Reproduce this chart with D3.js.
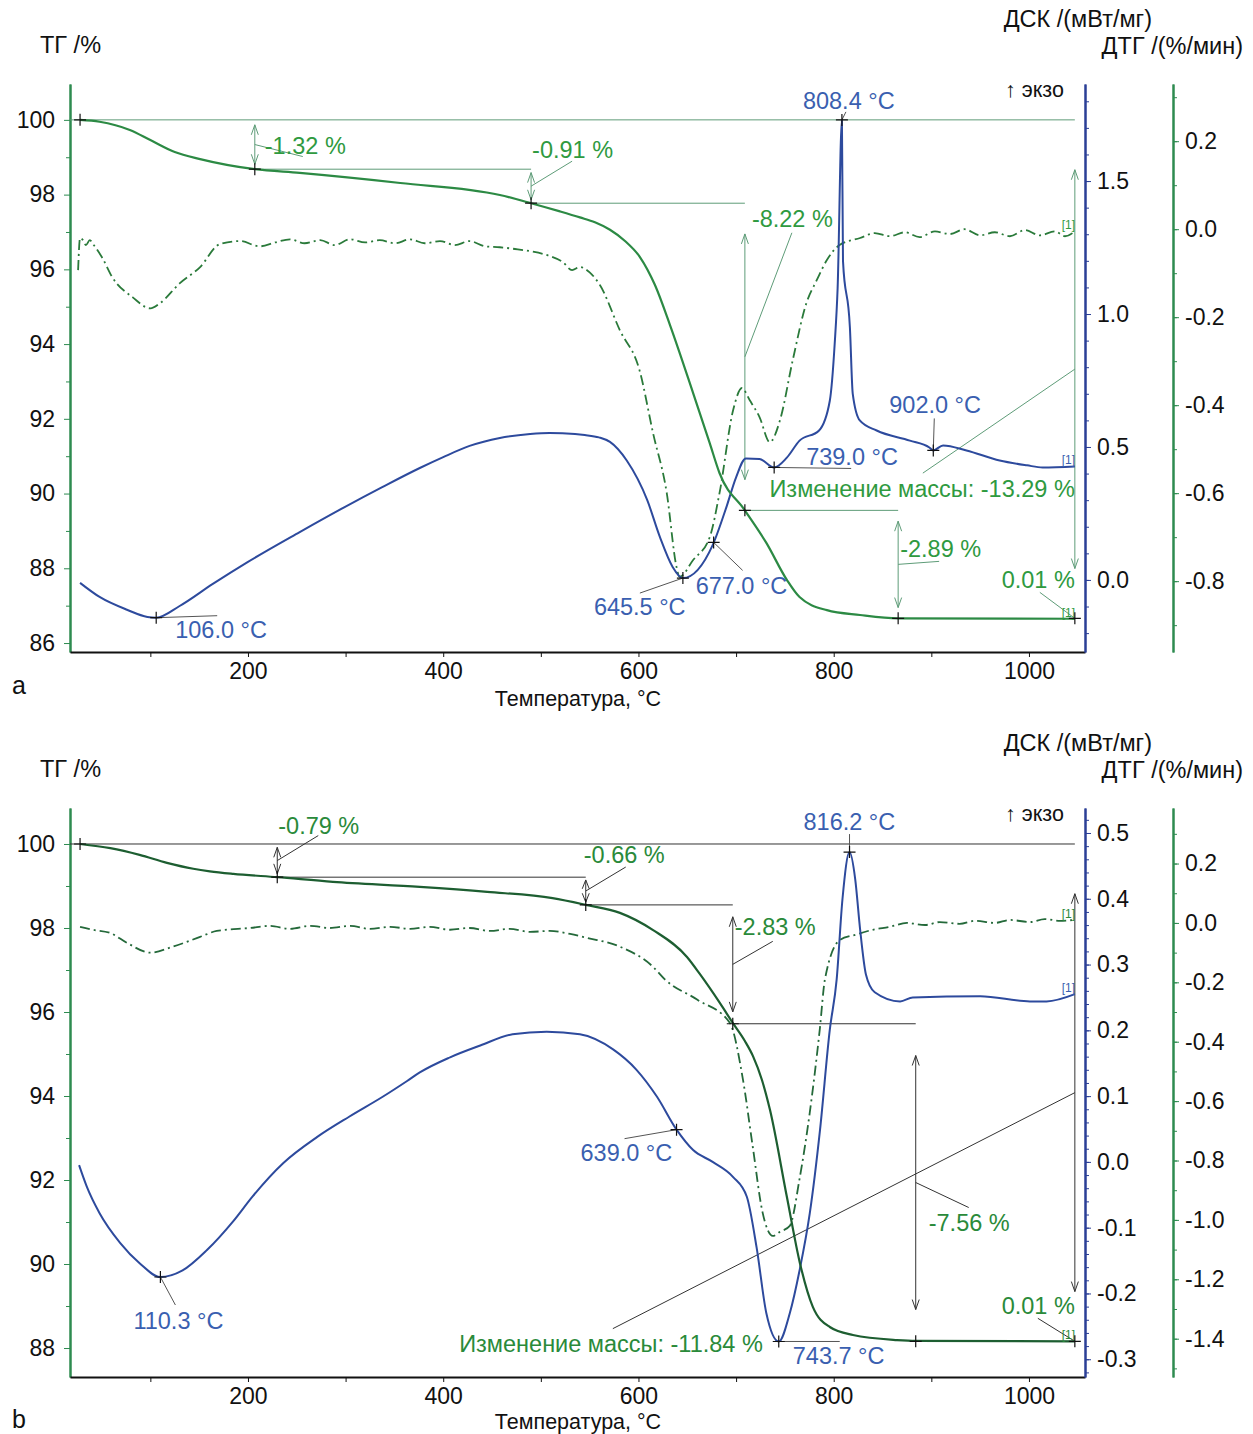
<!DOCTYPE html>
<html>
<head>
<meta charset="utf-8">
<script src="https://cdn.jsdelivr.net/npm/d3@7"></script>
<style>
  body { margin: 0; background: #fff; }
  svg text { font-family: "Liberation Sans", Arial, sans-serif; }
</style>
</head>
<body>
<svg id="chart" width="1253" height="1434"></svg>
<script>
// ---- data (temperature °C, value) ----
const tgA = [[28,100],[48,99.95],[79,99.73],[100,99.46],[125,99.14],[151,98.95],[207,98.68],[253,98.58],[356,98.31],[458,97.99],[490,97.77],[519.6,97.55],[540,97.39],[555.4,97.26],[570.8,97.06],[586.2,96.76],[601.5,96.33],[616.9,95.58],[632.3,94.51],[656,92.69],[673,91.35],[683,90.55],[709,89.55],[731,88.68],[752,87.69],[765,87.23],[793,86.88],[827,86.75],[866,86.66],[1047,86.65]];
const dscA = [[28,-0.011],[48,-0.064],[76,-0.112],[97,-0.139],[106,-0.142],[130,-0.098],[164,-0.015],[200,0.068],[253,0.18],[299,0.274],[338,0.35],[376,0.421],[400,0.462],[427,0.504],[458,0.534],[489,0.549],[509,0.553],[535,0.549],[545,0.545],[559.5,0.536],[570.8,0.519],[588,0.449],[609,0.30],[622,0.161],[635,0.049],[645.5,0.007],[676,0.131],[690,0.273],[700,0.386],[710,0.457],[724,0.455],[739,0.423],[752,0.46],[765,0.524],[785,0.562],[796,0.674],[801,0.888],[804,1.097],[808.4,1.73],[809.5,1.2],[816.6,0.948],[819.5,0.70],[826.7,0.60],[844,0.562],[878,0.524],[898,0.498],[902,0.487],[912,0.506],[936,0.487],[970,0.449],[998,0.431],[1014,0.423],[1047,0.427]];
const dtgA = [[26,-0.093],[28,-0.02],[31,-0.025],[34,-0.036],[38,-0.025],[42,-0.036],[51,-0.066],[61,-0.109],[82,-0.155],[100,-0.18],[110,-0.168],[130,-0.123],[151,-0.086],[171,-0.034],[192,-0.027],[212,-0.039],[228,-0.03],[243,-0.023],[258,-0.032],[274,-0.025],[289,-0.036],[304.5,-0.023],[320,-0.03],[335,-0.025],[350.6,-0.032],[366,-0.023],[381,-0.032],[396.7,-0.027],[412,-0.036],[427,-0.027],[443,-0.039],[458,-0.041],[473.5,-0.045],[489,-0.05],[509,-0.061],[522.6,-0.075],[532,-0.093],[540,-0.086],[550,-0.098],[560.5,-0.127],[581,-0.23],[601,-0.32],[615,-0.464],[629,-0.60],[639,-0.768],[642,-0.79],[656,-0.752],[673,-0.70],[683,-0.60],[697,-0.411],[706,-0.361],[714,-0.389],[724,-0.427],[734.5,-0.484],[745,-0.434],[758,-0.298],[772,-0.168],[782.6,-0.116],[793,-0.07],[806,-0.036],[827,-0.02],[842,-0.009],[857.6,-0.016],[873,-0.007],[888,-0.018],[903.7,-0.005],[919,-0.011],[934,0],[950,-0.014],[965,-0.007],[980.5,-0.016],[996,-0.002],[1011,-0.014],[1026.6,-0.005],[1036.9,-0.016],[1047,-0.005]];

const tgB = [[28,100],[59,99.9],[89,99.74],[117,99.55],[144,99.41],[161,99.35],[185,99.29],[230,99.21],[287,99.1],[376,98.98],[445,98.86],[512,98.71],[546,98.55],[581,98.36],[615,97.95],[649.7,97.31],[663,96.9],[683.5,96.21],[696.6,95.74],[709,95.31],[717.3,94.95],[726.5,94.38],[734.7,93.67],[752,91.6],[765.4,90.02],[778.6,88.98],[796,88.5],[819.7,88.31],[864.8,88.19],[884,88.17],[1047,88.16]];
const dscB = [[27,-0.005],[35,-0.038],[48,-0.078],[69,-0.123],[89,-0.154],[110.3,-0.175],[133,-0.165],[158,-0.134],[185,-0.09],[205,-0.052],[236,-0.002],[271,0.038],[304,0.069],[338,0.099],[363,0.123],[376,0.136],[407,0.159],[438,0.177],[471,0.194],[506,0.198],[540,0.194],[574,0.171],[598,0.14],[619,0.099],[639,0.049],[656,0.018],[676,0],[697,-0.023],[711,-0.053],[721,-0.13],[731,-0.23],[743.7,-0.273],[755,-0.23],[765,-0.165],[775.5,-0.078],[786,0.049],[796,0.201],[803,0.277],[809,0.40],[816.2,0.471],[822,0.43],[827,0.354],[833,0.285],[842,0.258],[868,0.244],[881,0.25],[950,0.252],[1001,0.244],[1018,0.244],[1047,0.255]];
const dtgB = [[28,-0.013],[41,-0.023],[59,-0.034],[76,-0.067],[100,-0.1],[123,-0.08],[151,-0.047],[168,-0.027],[202,-0.017],[222.5,-0.01],[243,-0.02],[263.5,-0.01],[284,-0.017],[304.5,-0.01],[325,-0.02],[345.5,-0.013],[366,-0.02],[386,-0.013],[407,-0.023],[427,-0.017],[448,-0.027],[468,-0.02],[489,-0.03],[509,-0.027],[530,-0.037],[547,-0.05],[581,-0.08],[615,-0.148],[627,-0.19],[660,-0.258],[693.5,-0.336],[707,-0.527],[717,-0.752],[727,-0.973],[737.6,-1.054],[745,-1.04],[755,-1.02],[765,-0.862],[775.5,-0.638],[785.7,-0.359],[791,-0.19],[806.4,-0.057],[822,-0.04],[840,-0.023],[857.6,-0.013],[875,0],[893.5,-0.007],[908.8,0.003],[929,-0.003],[944.7,0.007],[965,0],[980.5,0.01],[1001,0.003],[1016,0.013],[1031.8,0.007],[1045,0.01]];

// ---- tick labels ----
const tempTicks = [100,200,300,400,500,600,700,800,900,1000];
const tgTicksA = [86,88,90,92,94,96,98,100];
const tgTicksB = [88,90,92,94,96,98,100];
const dscTicksA = [0,0.5,1.0,1.5];
const dscTicksB = [-0.3,-0.2,-0.1,0,0.1,0.2,0.3,0.4,0.5];
const dtgTicksA = [-0.8,-0.6,-0.4,-0.2,0,0.2];
const dtgTicksB = [-1.4,-1.2,-1.0,-0.8,-0.6,-0.4,-0.2,0,0.2];

// ---- mass-loss steps and peaks ----
const stepTempsA = [207, 490, 709, 866];
const levelsA = [100, 98.68, 97.77, 89.55, 86.66];
const stepLabelsA = ["-1.32 %", "-0.91 %", "-8.22 %", "-2.89 %"];
const totalLabelA = "Изменение массы: -13.29 %";
const peakTempsA = [106.0, 645.5, 677.0, 739.0, 808.4, 902.0];

const stepTempsB = [230, 546, 696.6, 884];
const levelsB = [100, 99.21, 98.55, 95.72, 88.16];
const stepLabelsB = ["-0.79 %", "-0.66 %", "-2.83 %", "-7.56 %"];
const totalLabelB = "Изменение массы: -11.84 %";
const peakTempsB = [110.3, 639.0, 743.7, 816.2];

const residualLabel = "0.01 %";
const endTemp = 1047;

const svg = d3.select("#chart");
const fmt1 = d => d.toFixed(1);
const annoSize = "23.5px";

function interp(data, t) {
    const i = d3.bisector(d => d[0]).left(data, t);
    if (i <= 0) return data[0][1];
    if (i >= data.length) return data[data.length - 1][1];
    const a = data[i - 1], b = data[i];
    return a[1] + (b[1] - a[1]) * (t - a[0]) / (b[0] - a[0]);
}

function crosshair(g, x, y) {
    g.append("path").attr("d", `M${x - 6},${y}H${x + 6}M${x},${y - 6}V${y + 6}`)
        .attr("stroke", "#111").attr("stroke-width", 1.2);
}

function dblArrow(g, x, y1, y2, color) {
    g.append("line").attr("x1", x).attr("x2", x).attr("y1", y1).attr("y2", y2)
        .attr("stroke", color).attr("stroke-width", 1);
    const hl = Math.min(10, Math.abs(y2 - y1) / 2.5);
    g.append("path").attr("d", `M${x - 3.5},${y1 + hl}L${x},${y1}L${x + 3.5},${y1 + hl}M${x - 3.5},${y2 - hl}L${x},${y2}L${x + 3.5},${y2 - hl}`)
        .attr("fill", "none").attr("stroke", color).attr("stroke-width", 1);
}

function panel(c) {
    const g = svg.append("g");
    const x = d3.scaleLinear().domain([17.7, 1057.4]).range([70, 1085]);
    const yTg = d3.scaleLinear().domain(c.tgDomain).range([c.bottom, c.top]);
    const yDsc = d3.scaleLinear().domain(c.dscDomain).range([c.bottom, c.top]);
    const yDtg = d3.scaleLinear().domain(c.dtgDomain).range([c.bottom, c.top]);

    // axes
    const styleAxis = (sel, col) => {
        sel.select(".domain").attr("stroke", col).attr("stroke-width", 2);
        sel.selectAll(".tick line").attr("stroke", col);
        sel.selectAll(".tick text").attr("fill", "#111").style("font-size", "23px").style("font-family", '"Liberation Sans", Arial, sans-serif');
    };
    const tgMin = d3.range(Math.ceil(c.tgDomain[0]), c.tgDomain[1], 1).filter(v => v % 2 !== 0);
    g.append("g").attr("transform", "translate(70,0)")
        .call(d3.axisLeft(yTg).tickValues(tgMin).tickSize(4).tickFormat("").tickSizeOuter(0))
        .call(s => styleAxis(s, c.axisGreen));
    g.append("g").attr("transform", "translate(70,0)")
        .call(d3.axisLeft(yTg).tickValues(c.tgTicks).tickSize(6).tickPadding(9).tickSizeOuter(0))
        .call(s => styleAxis(s, c.axisGreen));

    g.append("g").attr("transform", `translate(0,${c.bottom})`)
        .call(d3.axisBottom(x).tickValues(tempTicks).tickSize(5).tickPadding(6).tickSizeOuter(0)
            .tickFormat(d => d % 200 === 0 ? d : ""))
        .call(s => styleAxis(s, "#111"));

    g.append("g").attr("transform", "translate(1085,0)")
        .call(d3.axisRight(yDsc).tickValues(c.dscMinor).tickSize(4).tickFormat("").tickSizeOuter(0))
        .call(s => styleAxis(s, c.blueAxis));
    g.append("g").attr("transform", "translate(1085,0)")
        .call(d3.axisRight(yDsc).tickValues(c.dscTicks).tickSize(6).tickPadding(6).tickFormat(fmt1).tickSizeOuter(0))
        .call(s => styleAxis(s, c.blueAxis));

    g.append("g").attr("transform", "translate(1173,0)")
        .call(d3.axisRight(yDtg).tickValues(c.dtgMinor).tickSize(4).tickFormat("").tickSizeOuter(0))
        .call(s => styleAxis(s, c.axisGreen));
    g.append("g").attr("transform", "translate(1173,0)")
        .call(d3.axisRight(yDtg).tickValues(c.dtgTicks).tickSize(6).tickPadding(6).tickFormat(fmt1).tickSizeOuter(0))
        .call(s => styleAxis(s, c.axisGreen));

    // titles
    const t = (txt, tx, ty, anchor, size) => g.append("text").attr("x", tx).attr("y", ty)
        .attr("text-anchor", anchor || "start").style("font-size", (size || 23.5) + "px").attr("fill", "#111").text(txt);
    t("ТГ /%", 40, c.top - 31);
    t("ДСК /(мВт/мг)", 1152, c.top - 57, "end");
    t("ДТГ /(%/мин)", 1243, c.top - 30, "end");
    t("↑ экзо", 1005, c.top + 13, "start", 21.5);
    t(c.letter, 12, c.letterY, "start", 25);
    t("Температура, °C", 578, c.xTitleY, "middle", 21.5);

    // mass-loss construction lines (TG scale)
    const lc = c.annoLine;
    const L = (x1, y1, x2, y2, col) => g.append("line").attr("x1", x1).attr("y1", y1).attr("x2", x2).attr("y2", y2)
        .attr("stroke", col || lc).attr("stroke-width", 1);
    L(70, yTg(c.levels[0]), x(endTemp), yTg(c.levels[0]));
    c.stepTemps.forEach((st, i) => {
        if (i > 0) L(x(c.stepTemps[i - 1]), yTg(c.levels[i]), x(st), yTg(c.levels[i]));
    });
    c.stepTemps.forEach((st, i) => {
        const y1 = yTg(c.levels[i]), y2 = yTg(c.levels[i + 1]), d = (y2 - y1) * 0.1;
        dblArrow(g, x(st), y1 + d, y2 - d, lc);
        const mid = (y1 + y2) / 2, o = c.stepOff[i];
        L(x(st), mid, x(st) + o[2], mid + o[3]);
        g.append("text").attr("x", x(st) + o[0]).attr("y", mid + o[1]).style("font-size", annoSize)
            .attr("fill", c.textGreen).text(c.stepLabels[i]);
    });
    // total change
    {
        const y1 = yTg(c.levels[0]), y2 = yTg(c.levels[c.levels.length - 1]), d = (y2 - y1) * 0.1;
        const xe = x(endTemp), mid = (y1 + y2) / 2, o = c.totalOff;
        dblArrow(g, xe, y1 + d, y2 - d, lc);
        L(xe, mid, xe + o[2], mid + o[3]);
        g.append("text").attr("x", xe + o[0]).attr("y", mid + o[1]).attr("text-anchor", "end")
            .style("font-size", annoSize).attr("fill", c.textGreen).text(c.totalLabel);
        const yr = yTg(c.levels[c.levels.length - 1]), r = c.resOff;
        L(xe, yr, xe + r[2], yr + r[3]);
        g.append("text").attr("x", xe + r[0]).attr("y", yr + r[1]).attr("text-anchor", "end")
            .style("font-size", annoSize).attr("fill", c.textGreen).text(residualLabel);
    }

    // curves
    const line = (ys) => d3.line().x(d => x(d[0])).y(d => ys(d[1])).curve(d3.curveMonotoneX);
    g.append("path").datum(c.dtg).attr("d", line(yDtg)).attr("fill", "none")
        .attr("stroke", c.dtgColor).attr("stroke-width", 1.8).attr("stroke-dasharray", "10,4,2,4");
    g.append("path").datum(c.dsc).attr("d", line(yDsc)).attr("fill", "none")
        .attr("stroke", c.dscColor).attr("stroke-width", 2);
    g.append("path").datum(c.tg).attr("d", line(yTg)).attr("fill", "none")
        .attr("stroke", c.tgColor).attr("stroke-width", 2.2);

    // [1] end marks
    const endMark = (data, ys, col) => {
        const last = data[data.length - 1];
        g.append("text").attr("x", 1075).attr("y", ys(last[1]) - 2).attr("text-anchor", "end")
            .style("font-size", "12px").attr("fill", col).text("[1]");
    };
    endMark(c.dtg, yDtg, c.textGreen);
    endMark(c.dsc, yDsc, c.blueText);
    endMark(c.tg, yTg, c.textGreen);

    // crosshairs on TG
    crosshair(g, x(c.tg[0][0]), yTg(c.levels[0]));
    c.stepTemps.forEach((st, i) => crosshair(g, x(st), yTg(c.levels[i + 1])));
    crosshair(g, x(endTemp), yTg(c.levels[c.levels.length - 1]));

    // DSC peak labels
    c.peaks.forEach((pt, i) => {
        const px = x(pt), py = yDsc(interp(c.dsc, pt)), o = c.peakOff[i];
        L(px, py, px + o[2], py + o[3], "#555");
        crosshair(g, px, py);
        g.append("text").attr("x", px + o[0]).attr("y", py + o[1]).style("font-size", annoSize)
            .attr("fill", c.blueText).text(pt.toFixed(1) + " °C");
    });
}

panel({
    top: 84, bottom: 652, letter: "a", letterY: 694, xTitleY: 706,
    tgDomain: [85.76, 100.96], dscDomain: [-0.271, 1.865], dtgDomain: [-0.961, 0.33],
    tgTicks: tgTicksA, dscTicks: dscTicksA, dtgTicks: dtgTicksA,
    dscMinor: d3.range(-2, 19).map(v => v / 10), dtgMinor: d3.range(-9, 4).map(v => v / 10),
    tg: tgA, dsc: dscA, dtg: dtgA,
    levels: levelsA, stepTemps: stepTempsA, stepLabels: stepLabelsA, totalLabel: totalLabelA, peaks: peakTempsA,
    stepOff: [[10, 9, 48, 12], [1, -28, 41, -25], [7, -130, 47, -124], [2, -7, 41, -3]],
    totalOff: [0, 128, -152, 104], resOff: [0, -30, -35, -26],
    peakOff: [[19, 20, 61, -2], [-89, 37, -43, 15], [-18, 52, 29, 28], [32, -2, 77, 1], [-39, -11, 4, -8], [-44, -37, 1, -32]],
    axisGreen: "#2e8b50", blueAxis: "#2b3f96", annoLine: "#5e9c78", textGreen: "#2f9a3f", blueText: "#3a5fb0",
    tgColor: "#2c8a44", dscColor: "#2d4a9d", dtgColor: "#2a7a3a"
});

panel({
    top: 808, bottom: 1377, letter: "b", letterY: 1428, xTitleY: 1429,
    tgDomain: [87.31, 100.857], dscDomain: [-0.327, 0.538], dtgDomain: [-1.529, 0.387],
    tgTicks: tgTicksB, dscTicks: dscTicksB, dtgTicks: dtgTicksB,
    dscMinor: d3.range(-16, 27).map(v => v / 50), dtgMinor: d3.range(-15, 4).map(v => v / 10),
    tg: tgB, dsc: dscB, dtg: dtgB,
    levels: levelsB, stepTemps: stepTempsB, stepLabels: stepLabelsB, totalLabel: totalLabelB, peaks: peakTempsB,
    stepOff: [[1, -27, 41, -25], [-2, -28, 40, -24], [2, -29, 40, -23], [13, 48, 53, 25]],
    totalOff: [-312, 259, -462, 236], resOff: [0, -27, -37, -23],
    peakOff: [[-27, 52, 15, 28], [-96, 31, -52, 9], [14, 23, 61, 0], [-46, -22, 0, -18]],
    axisGreen: "#2e8b50", blueAxis: "#2b3f96", annoLine: "#333", textGreen: "#2a8a3a", blueText: "#3a5fb0",
    tgColor: "#1d5e31", dscColor: "#2d4a9d", dtgColor: "#24693a"
});
</script>
</body>
</html>
